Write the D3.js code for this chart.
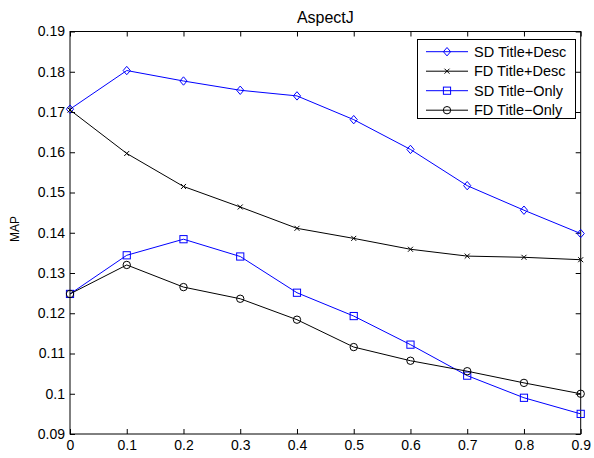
<!DOCTYPE html>
<html><head><meta charset="utf-8">
<script src="https://cdn.jsdelivr.net/npm/d3@7"></script>
<style>body{margin:0;background:#fff}svg{display:block}text{font-family:"Liberation Sans",Arial,Helvetica,sans-serif}</style>
</head><body><svg id="c" width="594" height="458"></svg>
<script>
const xValues = [0, 0.1, 0.2, 0.3, 0.4, 0.5, 0.6, 0.7, 0.8, 0.9];
const sdTitleDesc = [0.1707, 0.1803, 0.1777, 0.1754, 0.1740, 0.1681, 0.1607, 0.1517, 0.1456, 0.1398];
const fdTitleDesc = [0.1705, 0.1597, 0.1515, 0.1464, 0.1411, 0.1386, 0.1359, 0.1342, 0.1339, 0.1333];
const sdTitleOnly = [0.1248, 0.1344, 0.1384, 0.1341, 0.1251, 0.1193, 0.1122, 0.1045, 0.0990, 0.0950];
const fdTitleOnly = [0.1248, 0.1320, 0.1265, 0.1236, 0.1184, 0.1116, 0.1082, 0.1056, 0.1027, 0.1000];
const xTicks = [0, 0.1, 0.2, 0.3, 0.4, 0.5, 0.6, 0.7, 0.8, 0.9];
const yTicks = [0.09, 0.1, 0.11, 0.12, 0.13, 0.14, 0.15, 0.16, 0.17, 0.18, 0.19];
const seriesNames = ["SD Title+Desc", "FD Title+Desc", "SD Title\u2212Only", "FD Title\u2212Only"];

const svg = d3.select("#c");
const L = 70, R = 580.7, T = 31.5, B = 434;
const x = d3.scaleLinear().domain([0, 0.9]).range([L, R]);
const y = d3.scaleLinear().domain([0.09, 0.19]).range([B, T]);

const series = [
  {name: seriesNames[0], data: sdTitleDesc, color: "#0000ff", marker: "diamond"},
  {name: seriesNames[1], data: fdTitleDesc, color: "#000000", marker: "x"},
  {name: seriesNames[2], data: sdTitleOnly, color: "#0000ff", marker: "square"},
  {name: seriesNames[3], data: fdTitleOnly, color: "#000000", marker: "circle"}
];

function drawMarker(g, type, cx, cy, color) {
  if (type === "diamond") {
    g.append("path").attr("d", `M${cx},${cy-4.2}L${cx+3.6},${cy}L${cx},${cy+4.2}L${cx-3.6},${cy}Z`)
      .attr("fill", "none").attr("stroke", color).attr("stroke-width", 1);
  } else if (type === "square") {
    g.append("rect").attr("x", cx-3.6).attr("y", cy-3.6).attr("width", 7.2).attr("height", 7.2)
      .attr("fill", "none").attr("stroke", color).attr("stroke-width", 1);
  } else if (type === "circle") {
    g.append("circle").attr("cx", cx).attr("cy", cy).attr("r", 3.7)
      .attr("fill", "none").attr("stroke", color).attr("stroke-width", 1);
  } else if (type === "x") {
    g.append("path").attr("d", `M${cx-2.5},${cy-2.5}L${cx+2.5},${cy+2.5}M${cx-2.5},${cy+2.5}L${cx+2.5},${cy-2.5}`)
      .attr("stroke", color).attr("stroke-width", 1);
  }
}

// axes box
svg.append("rect").attr("x", L).attr("y", T).attr("width", R-L).attr("height", B-T)
  .attr("fill", "none").attr("stroke", "#000").attr("stroke-width", 1);

const gxb = svg.append("g").attr("transform", `translate(0,${B})`)
  .call(d3.axisBottom(x).tickValues(xTicks).tickSize(-5).tickPadding(6).tickFormat(d3.format("")));
const gxt = svg.append("g").attr("transform", `translate(0,${T})`)
  .call(d3.axisTop(x).tickValues(xTicks).tickSize(-5).tickFormat(""));
const yFmt = d => String(+d.toFixed(2));
const gyl = svg.append("g").attr("transform", `translate(${L},0)`)
  .call(d3.axisLeft(y).tickValues(yTicks).tickSize(-5).tickPadding(5).tickFormat(yFmt));
const gyr = svg.append("g").attr("transform", `translate(${R},0)`)
  .call(d3.axisRight(y).tickValues(yTicks).tickSize(-5).tickFormat(""));
[gxb, gxt, gyl, gyr].forEach(g => {
  g.select(".domain").remove();
  g.selectAll("line").attr("stroke", "#000");
  g.selectAll("text").attr("font-size", 14).attr("fill", "#000")
    .style("font-family", "'Liberation Sans', Arial, sans-serif");
});
gxb.selectAll("text").attr("dy", "0.71em");

// lines
const line = d3.line().x((d, i) => x(xValues[i])).y(d => y(d));
series.forEach(s => {
  svg.append("path").datum(s.data).attr("d", line)
    .attr("fill", "none").attr("stroke", s.color).attr("stroke-width", 1);
  const mg = svg.append("g");
  s.data.forEach((v, i) => drawMarker(mg, s.marker, x(xValues[i]), y(v), s.color));
});

// title & ylabel
svg.append("text").attr("x", (L+R)/2).attr("y", 23).attr("text-anchor", "middle")
  .attr("font-size", 16).text("AspectJ");
svg.append("text").attr("transform", `translate(19,229) rotate(-90)`)
  .attr("text-anchor", "middle").attr("font-size", 12).text("MAP");

// legend
const lg = svg.append("g");
lg.append("rect").attr("x", 417.5).attr("y", 39.5).attr("width", 158).attr("height", 79)
  .attr("fill", "#fff").attr("stroke", "#000").attr("stroke-width", 1);
const ly = [51.7, 71.2, 90.7, 110.2];
series.forEach((s, i) => {
  lg.append("line").attr("x1", 426).attr("x2", 468).attr("y1", ly[i]).attr("y2", ly[i])
    .attr("stroke", s.color).attr("stroke-width", 1);
  drawMarker(lg, s.marker, 447, ly[i], s.color);
  lg.append("text").attr("x", 474).attr("y", ly[i]).attr("dy", "0.35em")
    .attr("font-size", 14.5).text(s.name);
});
</script></body></html>
